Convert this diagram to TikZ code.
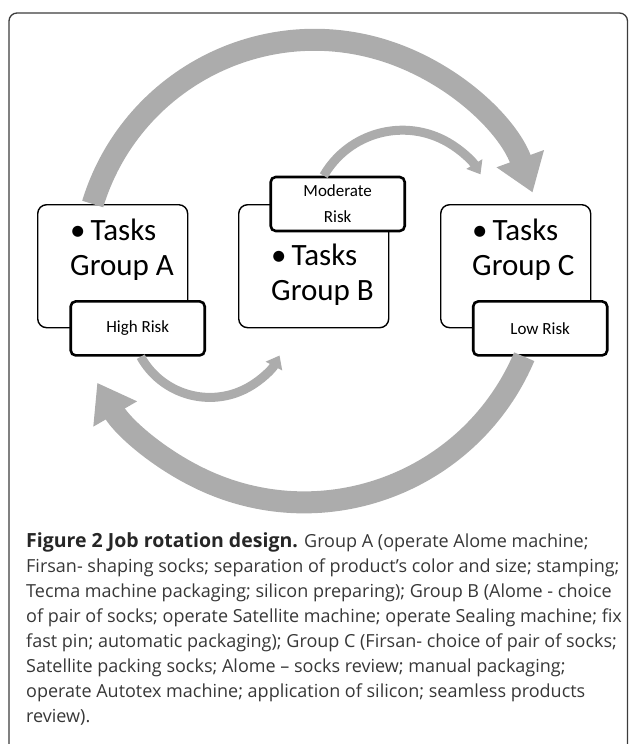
\documentclass[tikz,border=0pt]{standalone}
\usepackage{fontspec}
\setmainfont{Carlito}
\newfontfamily\capfont{Open Sans}
\usetikzlibrary{arrows.meta,positioning}

\definecolor{arrowgray}{RGB}{172,172,172}
\definecolor{framegray}{RGB}{60,60,60}
\definecolor{captext}{RGB}{55,55,55}

\tikzset{
  groupbox/.style={draw, fill=white, rounded corners=9pt, line width=1.4pt,
    minimum width=150pt, minimum height=123pt, anchor=north west},
  riskbox/.style={draw, fill=white, rounded corners=5pt, line width=2.6pt,
    minimum width=134pt, minimum height=54pt, align=center,
    font=\fontsize{17pt}{26pt}\selectfont},
  tasktext/.style={anchor=base west, align=left, inner sep=0pt,
    font=\fontsize{31pt}{35pt}\selectfont},
  flowbig/.style={draw=arrowgray, line width=22pt,
    -{Triangle[length=36pt,width=48pt]}},
  flowsmall/.style={draw=arrowgray, line width=9pt,
    -{Triangle[length=12pt,width=18pt]}},
}

\begin{document}
\begin{tikzpicture}[x=1pt,y=1pt]
  \useasboundingbox (0,0) rectangle (629,-744);
  % outer frame
  \draw[framegray, line width=1.3pt, rounded corners=8pt] (9,-13) rectangle (627.5,-760);

  % the three groups
  \node[groupbox] (boxA) at (37,-204) {};
  \node[groupbox] (boxB) at (238,-204) {};
  \node[groupbox] (boxC) at (440,-204) {};
  \node[tasktext] (txtA) at (70,-275) {\textbullet\hspace{5pt}Tasks\\Group A};
  \node[tasktext] (txtB) at (271,-300) {\textbullet\hspace{5pt}Tasks\\Group B};
  \node[tasktext] (txtC) at (472,-275) {\textbullet\hspace{5pt}Tasks\\Group C};

  % risk labels
  \node[riskbox] (riskA) at ([xshift=25pt]boxA.south) {High Risk};
  \node[riskbox] (riskB) at ([xshift=24pt]boxB.north) {Moderate\\Risk};
  \node[riskbox] (riskC) at ([xshift=24.5pt]boxC.south) {Low Risk};

  % rotation arrows
  \draw[flowbig] ([xshift=-20pt]boxA.north) arc[start angle=163, end angle=20, radius=232];
  \draw[flowbig] ([xshift=-16pt]riskC.south) arc[start angle=-23, end angle=-150, radius=239];
  \draw[flowsmall] ([xshift=3pt]riskA.south) arc[start angle=209, end angle=332, radius=79];
  \draw[flowsmall] ([xshift=-14pt]riskB.north) arc[start angle=150, end angle=31, radius=91];

  % caption
  \node[anchor=base west, align=left, inner sep=0pt, text=captext,
    font=\capfont\fontsize{18pt}{25pt}\selectfont] (caption) at (26,-722)
    {{\fontsize{19.5pt}{25pt}\selectfont\bfseries\color{black!85}Figure 2 Job rotation design.} Group A (operate Alome machine;\\
     Firsan- shaping socks; separation of product’s color and size; stamping;\\
     Tecma machine packaging; silicon preparing); Group B (Alome - choice\\
     of pair of socks; operate Satellite machine; operate Sealing machine; fix\\
     fast pin; automatic packaging); Group C (Firsan- choice of pair of socks;\\
     Satellite packing socks; Alome – socks review; manual packaging;\\
     operate Autotex machine; application of silicon; seamless products\\
     review).};
\end{tikzpicture}
\end{document}
